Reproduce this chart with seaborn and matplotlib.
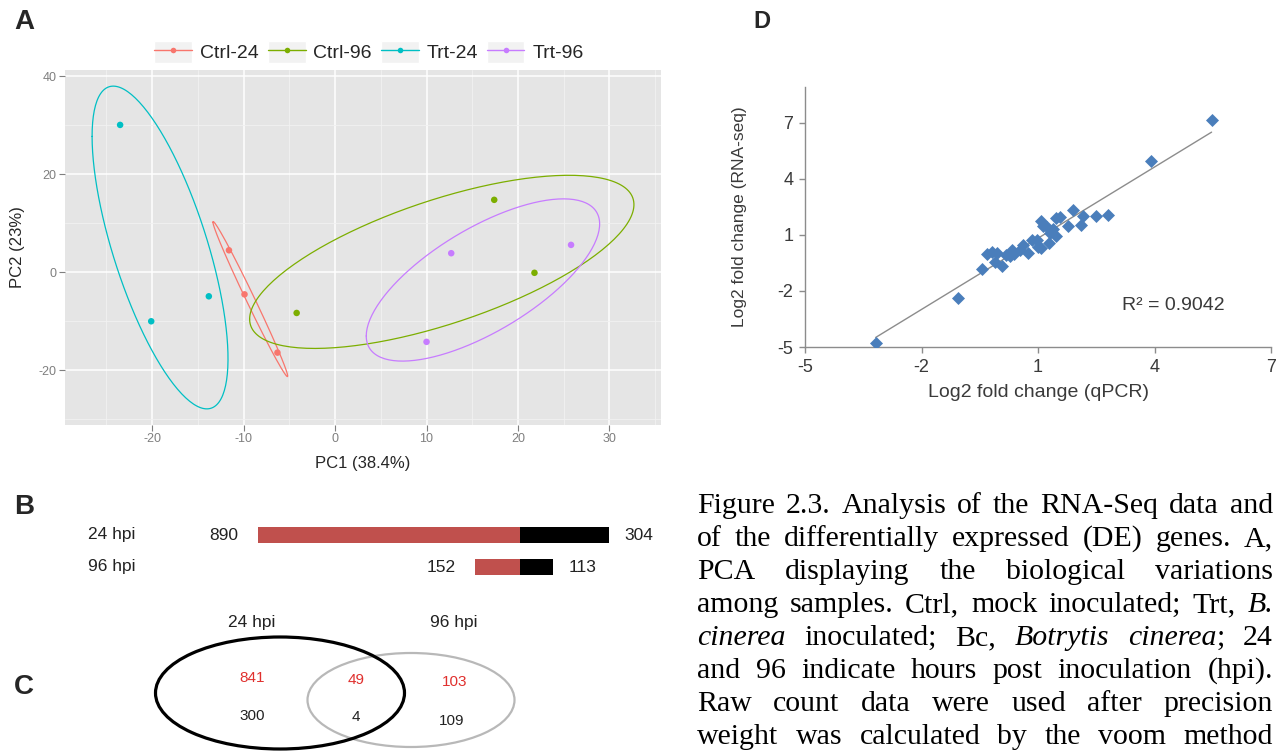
import numpy as np
import pandas as pd
import matplotlib
matplotlib.use("Agg")
import matplotlib.pyplot as plt
import seaborn as sns
from matplotlib.patches import Ellipse, Rectangle
from matplotlib.lines import Line2D
from matplotlib.legend_handler import HandlerLine2D
from matplotlib.transforms import IdentityTransform

# ------------------------------------------------------------------ data
# Panel A: PCA scores
groups = ["Ctrl-24", "Ctrl-96", "Trt-24", "Trt-96"]
pca_group = ["Ctrl-24"] * 3 + ["Ctrl-96"] * 3 + ["Trt-24"] * 3 + ["Trt-96"] * 3
pc1 = [-11.6, -9.9, -6.3, -4.2, 17.4, 21.8, -23.5, -20.1, -13.8, 12.7, 25.8, 10.0]
pc2 = [4.5, -4.5, -16.4, -8.3, 14.8, -0.1, 30.1, -10.0, -4.9, 3.9, 5.6, -14.2]
pc1_title = "PC1 (38.4%)"
pc2_title = "PC2 (23%)"
group_colors = ["#F8766D", "#7CAE00", "#00BFC4", "#C77CFF"]
ellipse_prob = 0.68

# Panel B: DE gene counts
hpi_labels = ["24 hpi", "96 hpi"]
de_up = [890, 152]
de_down = [304, 113]

# Panel C: Venn counts (24 only, shared, 96 only)
venn_sets = ["24 hpi", "96 hpi"]
venn_up = [841, 49, 103]
venn_down = [300, 4, 109]

# Panel D: qPCR vs RNA-seq
qpcr = [-3.18, -1.07, 3.90, 5.47, -0.44, 0.07, -0.32, -0.19, -0.06, 0.18, 0.32, 0.38,
        0.54, 0.75, 0.85, 0.97, 1.09, 1.12, 1.09, 1.22, 1.30, 1.39, 1.28, 1.47, 1.57,
        1.47, 1.78, 1.89, 2.11, 2.17, 2.49, 2.79, 0.28, -0.11, 0.62, 1.00]
rnaseq = [-4.80, -2.40, 4.94, 7.13, -0.83, -0.65, -0.02, 0.10, 0.05, -0.07, 0.19, -0.02,
          0.19, 0.05, 0.70, 0.73, 0.28, 1.48, 1.71, 1.44, 1.09, 1.31, 0.55, 0.91, 1.95,
          1.90, 1.48, 2.34, 1.54, 1.99, 2.02, 2.07, -0.16, -0.43, 0.46, 0.35]
d_xticks = [-5, -2, 1, 4, 7]
d_yticks = [-5, -2, 1, 4, 7]
d_xtitle = "Log2 fold change (qPCR)"
d_ytitle = "Log2 fold change (RNA-seq)"
r2_text = "R² = 0.9042"

caption_lines = [
    "Figure 2.3. Analysis of the RNA-Seq data and",
    "of the differentially expressed (DE) genes. A,",
    "PCA displaying the biological variations",
    "among samples. Ctrl, mock inoculated; Trt, *B.*",
    "*cinerea* inoculated; Bc, *Botrytis* *cinerea*; 24",
    "and 96 indicate hours post inoculation (hpi).",
    "Raw count data were used after precision",
    "weight was calculated by the voom method",
]

# ------------------------------------------------------------------ setup
W, H = 1285, 751
sns.set_style("white")
plt.rcParams["font.family"] = ["Liberation Sans", "DejaVu Sans"]
plt.rcParams["axes.unicode_minus"] = False

fig = plt.figure(figsize=(W / 100, H / 100), dpi=100)


def fx(x):
    return x / W


def fy(y):
    return 1 - y / H


def box(l, t, r, b):
    return [fx(l), fy(b), (r - l) / W, (b - t) / H]


# ------------------------------------------------------------------ panel A
axA = fig.add_axes(box(65, 70, 661, 425))
dfA = pd.DataFrame({"PC1": pc1, "PC2": pc2, "group": pca_group})
pal = dict(zip(groups, group_colors))
ed = np.sqrt(-2 * np.log(1 - ellipse_prob))
theta = np.linspace(-np.pi, np.pi, 200)
circle = np.column_stack([np.cos(theta), np.sin(theta)])
all_x, all_y = list(pc1), list(pc2)
for g in groups:
    sub = dfA[dfA.group == g][["PC1", "PC2"]].to_numpy()
    mu = sub.mean(axis=0)
    sigma = np.cov(sub.T)
    L = np.linalg.cholesky(sigma)
    ell = circle @ L.T * ed + mu
    axA.plot(ell[:, 0], ell[:, 1], color=pal[g], lw=0.9, zorder=3)
    all_x += list(ell[:, 0])
    all_y += list(ell[:, 1])
sns.scatterplot(data=dfA, x="PC1", y="PC2", hue="group", palette=pal, hue_order=groups,
                s=22, linewidth=0, ax=axA, legend=False, zorder=4)
xr = max(all_x) - min(all_x)
yr = max(all_y) - min(all_y)
axA.set_xlim(min(all_x) - 0.05 * xr, max(all_x) + 0.05 * xr)
axA.set_ylim(min(all_y) - 0.05 * yr, max(all_y) + 0.05 * yr)
axA.set_facecolor("#E5E5E5")
for s in axA.spines.values():
    s.set_visible(False)
axA.set_xticks([-20, -10, 0, 10, 20, 30])
axA.set_yticks([-20, 0, 20, 40])
axA.set_xticks([-25, -15, -5, 5, 15, 25, 35], minor=True)
axA.set_yticks([-30, -10, 10, 30], minor=True)
axA.grid(which="major", color="white", lw=1.1)
axA.grid(which="minor", color="#F2F2F2", lw=0.6)
axA.set_axisbelow(True)
axA.tick_params(which="major", direction="out", length=4, width=0.8, color="#7F7F7F",
                labelcolor="#7F7F7F", labelsize=9, pad=2, bottom=True, left=True)
axA.tick_params(which="minor", length=0)
axA.set_xlabel(pc1_title, fontsize=12, labelpad=8)
axA.set_ylabel(pc2_title, fontsize=12, labelpad=10)


class KeyHandler(HandlerLine2D):
    def create_artists(self, legend, orig_handle, xdescent, ydescent, width, height,
                       fontsize, trans):
        rect = Rectangle((-xdescent, -ydescent), width, height, facecolor="#F2F2F2",
                         edgecolor="white", linewidth=1, transform=trans)
        arts = super().create_artists(legend, orig_handle, xdescent, ydescent, width,
                                      height, fontsize, trans)
        return [rect] + list(arts)


handles = [Line2D([], [], color=c, lw=1.0, marker="o", markersize=4, markeredgewidth=0)
           for c in group_colors]
fig.legend(handles, groups, loc="center", bbox_to_anchor=(fx(369), fy(52)), ncol=4,
           frameon=False, fontsize=14, handlelength=1.95, handleheight=1.35,
           handletextpad=0.4, columnspacing=0.45, borderpad=0, numpoints=1,
           handler_map={Line2D: KeyHandler(numpoints=1)})

# ------------------------------------------------------------------ panel B
axB = fig.add_axes(box(258, 519, 609, 583))
ypos = np.arange(len(hpi_labels))
dfB = pd.DataFrame({"row": hpi_labels, "up": [-v for v in de_up], "down": de_down})
axB.barh(ypos, dfB["up"], height=0.5, color="#C0504D", lw=0)
axB.barh(ypos, dfB["down"], height=0.5, color="black", lw=0)
axB.set_xlim(-max(de_up), max(de_down))
axB.set_ylim(1.5, -0.5)
axB.axis("off")
for i, lab in enumerate(hpi_labels):
    axB.annotate(str(de_up[i]), (-de_up[i], i), xytext=(-14, 0), textcoords="offset points",
                 ha="right", va="center", fontsize=12.5, color="#222222")
    axB.annotate(str(de_down[i]), (de_down[i], i), xytext=(11, 0), textcoords="offset points",
                 ha="left", va="center", fontsize=12.5, color="#222222")
    axB.annotate(lab, (fx(88), i), xycoords=("figure fraction", "data"),
                 ha="left", va="center", fontsize=12.5, color="#222222")

# ------------------------------------------------------------------ panel C (Venn)
axC = fig.add_axes(box(140, 600, 540, 751))
axC.set_xlim(140, 540)
axC.set_ylim(751, 600)
axC.axis("off")
axC.add_patch(Ellipse((411, 700), 207, 94, fill=False, lw=1.6, ec="#B8B8B8", clip_on=False))
axC.add_patch(Ellipse((280, 693), 249, 112, fill=False, lw=2.3, ec="black", clip_on=False))
set_x = [252, 454]
for name, x in zip(venn_sets, set_x):
    axC.text(x, 623, name, ha="center", va="center", fontsize=12.5, color="#222222")
region_x = [252, 356, 455]
up_y = [678, 680, 682]
down_y = [716, 717, 721]
for i in range(3):
    axC.text(region_x[i], up_y[i], str(venn_up[i]), ha="center", va="center",
             fontsize=11, color="#E0302E")
    axC.text(region_x[i] - (3 if i == 2 else 0), down_y[i], str(venn_down[i]),
             ha="center", va="center", fontsize=11, color="#222222")

# ------------------------------------------------------------------ panel D
axD = fig.add_axes(box(805, 87, 1271, 347))
sns.regplot(x=qpcr, y=rnaseq, ax=axD, scatter=False, ci=None,
            line_kws=dict(color="#8C8C8C", lw=1.0))
sns.scatterplot(x=qpcr, y=rnaseq, ax=axD, marker="D", s=44, color="#4A7EBB",
                linewidth=0, zorder=3)
axD.set_xlim(-5, 7)
axD.set_ylim(-5, 8.9)
axD.set_xticks(d_xticks)
axD.set_yticks(d_yticks)
for side in ["top", "right"]:
    axD.spines[side].set_visible(False)
for side in ["left", "bottom"]:
    axD.spines[side].set_color("#8C8C8C")
    axD.spines[side].set_linewidth(1.0)
axD.tick_params(direction="out", length=4.5, width=1, color="#8C8C8C",
                labelcolor="#3A3A3A", labelsize=13, bottom=True, left=True, pad=4)
axD.set_xlabel(d_xtitle, fontsize=14, color="#3A3A3A", labelpad=6)
axD.set_ylabel(d_ytitle, fontsize=12.5, color="#3A3A3A", labelpad=22)
axD.text(0.79, 0.16, r2_text, transform=axD.transAxes, ha="center", va="center",
         fontsize=14, color="#3A3A3A")
axD.grid(False)

# ------------------------------------------------------------------ panel letters
fig.text(fx(24), fy(22), "A", fontsize=20, fontweight="bold", ha="center", va="center")
fig.text(fx(24), fy(507), "B", fontsize=20, fontweight="bold", ha="center", va="center")
fig.text(fx(24), fy(687), "C", fontsize=20, fontweight="bold", ha="center", va="center")
fig.text(fx(762), fy(22), "D", fontsize=17, fontweight="bold", ha="center", va="center")

# ------------------------------------------------------------------ caption (justified)
fig.canvas.draw()
renderer = fig.canvas.get_renderer()
cap_left, cap_right = 697, 1273
base0, lstep = 513, 33.0
cap_font = dict(family=["Liberation Serif", "DejaVu Serif"], fontsize=21.5, color="black")


def parse_word(word):
    segs = []
    parts = word.split("*")
    for k, p in enumerate(parts):
        if p:
            segs.append((p, k % 2 == 1))
    return segs


for li, line in enumerate(caption_lines):
    words = [parse_word(w) for w in line.split(" ")]
    ybase = H - (base0 + li * lstep)
    word_arts = []
    widths = []
    for segs in words:
        arts = []
        wsum = 0
        for txt, ital in segs:
            t = fig.text(0, ybase, txt, transform=IdentityTransform(), va="baseline",
                         ha="left", style="italic" if ital else "normal", **cap_font)
            w = t.get_window_extent(renderer).width
            arts.append((t, w))
            wsum += w
        word_arts.append(arts)
        widths.append(wsum)
    gap = (cap_right - cap_left - sum(widths)) / max(len(words) - 1, 1)
    x = cap_left
    for arts, w in zip(word_arts, widths):
        xx = x
        for t, sw in arts:
            t.set_x(xx)
            xx += sw
        x += w + gap

fig.savefig("out.png", dpi=100)
